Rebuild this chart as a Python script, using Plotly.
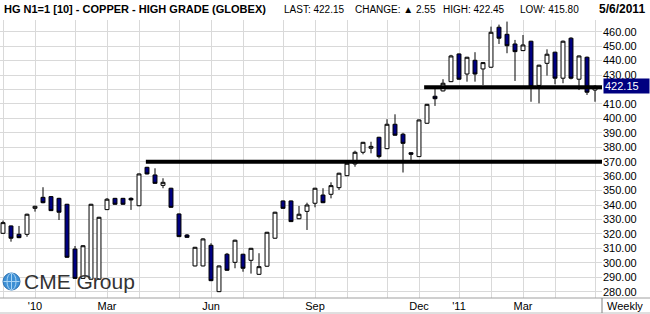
import plotly.graph_objects as go
import pandas as pd

# ---------------- data ----------------
dates = [
    "2009-12-04", "2009-12-11", "2009-12-18", "2009-12-25",
    "2010-01-01", "2010-01-08", "2010-01-15", "2010-01-22", "2010-01-29",
    "2010-02-05", "2010-02-12", "2010-02-19", "2010-02-26",
    "2010-03-05", "2010-03-12", "2010-03-19", "2010-03-26",
    "2010-04-02", "2010-04-09", "2010-04-16", "2010-04-23", "2010-04-30",
    "2010-05-07", "2010-05-14", "2010-05-21", "2010-05-28",
    "2010-06-04", "2010-06-11", "2010-06-18", "2010-06-25",
    "2010-07-02", "2010-07-09", "2010-07-16", "2010-07-23", "2010-07-30",
    "2010-08-06", "2010-08-13", "2010-08-20", "2010-08-27",
    "2010-09-03", "2010-09-10", "2010-09-17", "2010-09-24",
    "2010-10-01", "2010-10-08", "2010-10-15", "2010-10-22", "2010-10-29",
    "2010-11-05", "2010-11-12", "2010-11-19", "2010-11-26",
    "2010-12-03", "2010-12-10", "2010-12-17", "2010-12-24", "2010-12-31",
    "2011-01-07", "2011-01-14", "2011-01-21", "2011-01-28",
    "2011-02-04", "2011-02-11", "2011-02-18", "2011-02-25",
    "2011-03-04", "2011-03-11", "2011-03-18", "2011-03-25",
    "2011-04-01", "2011-04-08", "2011-04-15", "2011-04-22", "2011-04-29",
    "2011-05-06",
]
open_ = [
    320.4, 325.5, 319.7, 319.7,
    337.7, 345.3, 345.8, 344.6, 340.5,
    309.5, 289.2, 288.6, 288.6,
    336.8, 344.6, 344.6, 344.6,
    339.5, 366.1, 360.8, 353.6, 351.6,
    333.8, 319.2, 297.8, 297.8,
    312.1, 280.0, 305.9, 300.3,
    305.9, 301.7, 292.0, 297.6, 317.0,
    342.8, 342.8, 330.5, 335.6,
    341.2, 346.9, 347.4, 352.0,
    360.3, 368.4, 376.5, 379.3, 386.9,
    379.0, 395.9, 389.0, 376.2,
    373.5, 396.6, 415.3, 419.0, 425.4,
    444.6, 430.7, 440.2, 434.2,
    435.4, 463.1, 458.2, 451.5,
    446.9, 453.4, 422.8, 438.1,
    445.8, 427.8, 455.5, 427.1, 442.3,
    419.6,
]
high = [
    329.2, 325.8, 325.5, 334.0,
    339.5, 352.3, 346.2, 345.0, 340.8,
    311.6, 312.2, 340.8, 331.8,
    344.8, 344.9, 344.9, 345.3,
    361.8, 366.4, 365.4, 358.5, 351.9,
    334.1, 319.9, 311.0, 317.0,
    313.5, 298.1, 306.8, 316.0,
    306.2, 310.3, 306.6, 321.4, 335.3,
    343.1, 343.1, 339.3, 341.6,
    351.9, 351.6, 355.7, 362.3,
    369.2, 377.6, 383.7, 383.8, 387.2,
    399.4, 402.8, 390.0, 376.5,
    399.2, 410.0, 420.8, 427.1, 444.0,
    444.9, 442.6, 445.8, 439.0,
    463.5, 464.9, 467.0, 454.3,
    457.7, 453.7, 437.1, 447.8,
    446.1, 453.9, 456.2, 443.5, 442.8,
    422.9,
]
low = [
    320.0, 314.6, 317.0, 318.0,
    335.4, 341.2, 335.8, 329.6, 303.5,
    288.8, 288.8, 288.3, 288.3,
    336.5, 340.2, 340.2, 336.6,
    339.2, 361.2, 354.7, 351.6, 338.1,
    317.8, 317.3, 297.5, 297.5,
    287.3, 279.7, 294.5, 296.2,
    293.8, 292.5, 291.7, 297.3, 316.7,
    337.4, 328.2, 330.2, 322.7,
    338.4, 341.3, 344.6, 350.4,
    360.0, 366.5, 375.1, 375.8, 372.3,
    378.7, 388.0, 362.5, 371.2,
    373.2, 396.3, 408.6, 418.7, 425.1,
    426.8, 425.4, 425.4, 423.1,
    435.1, 451.5, 445.1, 425.9,
    446.6, 411.5, 410.4, 429.6,
    423.6, 424.3, 427.0, 419.6, 416.2,
    411.5,
]
close = [
    327.8, 317.0, 317.4, 333.6,
    339.1, 341.6, 336.1, 335.0, 303.8,
    289.2, 311.8, 340.5, 331.5,
    344.0, 340.5, 340.5, 343.5,
    361.5, 361.5, 355.0, 355.7, 338.4,
    318.1, 317.6, 310.7, 316.5,
    287.6, 297.8, 294.8, 315.6,
    296.2, 310.0, 297.3, 321.1, 335.0,
    337.7, 328.5, 333.6, 340.0,
    351.6, 341.6, 353.4, 362.0,
    368.9, 376.5, 383.4, 380.6, 373.5,
    395.9, 388.3, 382.7, 375.1,
    398.9, 409.7, 413.6, 424.3, 443.2,
    427.1, 442.3, 430.7, 438.6,
    459.6, 455.5, 450.3, 446.2,
    450.8, 422.0, 436.8, 444.4,
    427.8, 453.4, 427.8, 443.2, 418.1,
    422.15,
]

month_grid = [
    "2009-12-04", "2010-01-01", "2010-02-05", "2010-03-05", "2010-04-02",
    "2010-05-07", "2010-06-04", "2010-07-02", "2010-08-06", "2010-09-03",
    "2010-10-01", "2010-11-05", "2010-12-03", "2011-01-07", "2011-02-04",
    "2011-03-04", "2011-04-01", "2011-05-06",
]
month_labels = {
    "2010-01-01": "'10", "2010-03-05": "Mar", "2010-06-04": "Jun",
    "2010-09-03": "Sep", "2010-12-03": "Dec", "2011-01-07": "'11",
    "2011-03-04": "Mar",
}
y_ticks = list(range(280, 461, 10))
support_1 = 370.0
support_1_start = "2010-04-08"
support_2 = 421.5
support_2_start = "2010-12-07 12:00"
last_price = 422.15

# ---------------- figure ----------------
W, H = 650, 314
ML, MR, MT, MB = 0, 48, 20, 16
PW, PH = W - ML - MR, H - MT - MB

anchor = pd.Timestamp("2010-01-01")
x_start = anchor - pd.Timedelta(weeks=35 / 8)
x_end = anchor + pd.Timedelta(weeks=(PW - 35) / 8)

def px(xp):
    return (xp - ML) / PW

def py(yp):
    return (H - MB - yp) / PH

fig = go.Figure()
fig.add_trace(go.Candlestick(
    x=dates, open=open_, high=high, low=low, close=close,
    increasing=dict(fillcolor="white", line=dict(color="black", width=1)),
    decreasing=dict(fillcolor="#000080", line=dict(color="black", width=1)),
    whiskerwidth=0, hoverinfo="skip",
))

shapes = [
    dict(type="line", xref="x", yref="y", x0=support_1_start, x1=x_end,
         y0=support_1, y1=support_1, line=dict(color="black", width=4)),
    dict(type="line", xref="x", yref="y", x0=support_2_start, x1=x_end,
         y0=support_2, y1=support_2, line=dict(color="black", width=4)),
    # bottom frame extending under the right label column
    dict(type="line", xref="paper", yref="paper", x0=0, x1=px(W), y0=0, y1=0,
         line=dict(color="#a0a0a0", width=1)),
    dict(type="line", xref="paper", yref="paper", x0=0, x1=px(W),
         y0=py(313), y1=py(313), line=dict(color="#c0c0c0", width=1)),
    dict(type="line", xref="paper", yref="paper", x0=1, x1=1, y0=0, y1=py(313),
         line=dict(color="#808080", width=1)),
    # logo globe
    dict(type="circle", xref="paper", yref="paper", x0=px(3), x1=px(20),
         y0=py(290), y1=py(273), fillcolor="#3d8fd4",
         line=dict(color="#2a6fb0", width=1)),
    dict(type="line", xref="paper", yref="paper", x0=px(3.5), x1=px(19.5),
         y0=py(281.5), y1=py(281.5), line=dict(color="#a8d4f5", width=1)),
    dict(type="line", xref="paper", yref="paper", x0=px(11.5), x1=px(11.5),
         y0=py(289.5), y1=py(273.5), line=dict(color="#a8d4f5", width=1)),
    dict(type="circle", xref="paper", yref="paper", x0=px(7), x1=px(16),
         y0=py(290), y1=py(273), fillcolor="rgba(0,0,0,0)",
         line=dict(color="#a8d4f5", width=1)),
]

font_r = "Liberation Sans, Arial, sans-serif"
hy = py(9)
annotations = [
    dict(text="<b>HG N1=1 [10] - COPPER - HIGH GRADE (GLOBEX)</b>", x=px(2), y=hy,
         xanchor="left", font=dict(family=font_r, size=11, color="black")),
    dict(text="LAST: 422.15", x=px(282), y=hy, xanchor="left",
         font=dict(family=font_r, size=10, color="black")),
    dict(text="CHANGE: ▲ 2.55", x=px(353), y=hy, xanchor="left",
         font=dict(family=font_r, size=10, color="black")),
    dict(text="HIGH: 422.45", x=px(441), y=hy, xanchor="left",
         font=dict(family=font_r, size=10, color="black")),
    dict(text="LOW: 415.80", x=px(518), y=hy, xanchor="left",
         font=dict(family=font_r, size=10, color="black")),
    dict(text="<b>5/6/2011</b>", x=px(647), y=hy, xanchor="right",
         font=dict(family=font_r, size=12, color="black")),
    dict(text="Weekly", x=px(625), y=py(306), xanchor="center",
         font=dict(family=font_r, size=11, color="black")),
    dict(text="422.15", x=px(603), y=last_price, yref="y", xanchor="left",
         bgcolor="#000080", width=43, align="left", borderpad=1,
         font=dict(family=font_r, size=11, color="white")),
    dict(text="CME Group", x=px(22), y=py(281.5), xanchor="left",
         font=dict(family=font_r, size=21, color="#333333")),
]
for a in annotations:
    a.setdefault("xref", "paper")
    a.setdefault("yref", "paper")
    a["showarrow"] = False
    a.setdefault("yanchor", "middle")

fig.update_layout(
    width=W, height=H,
    margin=dict(l=ML, r=MR, t=MT, b=MB),
    paper_bgcolor="white", plot_bgcolor="white",
    showlegend=False,
    xaxis=dict(
        type="date", range=[x_start, x_end],
        tickvals=month_grid,
        ticktext=[month_labels.get(d, "") for d in month_grid],
        showgrid=True, gridcolor="#d9d9d9", gridwidth=1,
        showline=False, ticks="", zeroline=False,
        rangeslider=dict(visible=False),
        tickfont=dict(family=font_r, size=11, color="black"),
        fixedrange=True,
    ),
    yaxis=dict(
        side="right", range=[275.6, 468.1],
        tickvals=y_ticks,
        ticktext=["" if v == 420 else f"{v:.2f}" for v in y_ticks],
        showgrid=True, gridcolor="#d9d9d9", gridwidth=1,
        showline=False, ticks="", zeroline=False,
        tickfont=dict(family=font_r, size=11, color="black"),
        fixedrange=True,
    ),
    shapes=shapes,
    annotations=annotations,
)

fig.write_html("out.html")
